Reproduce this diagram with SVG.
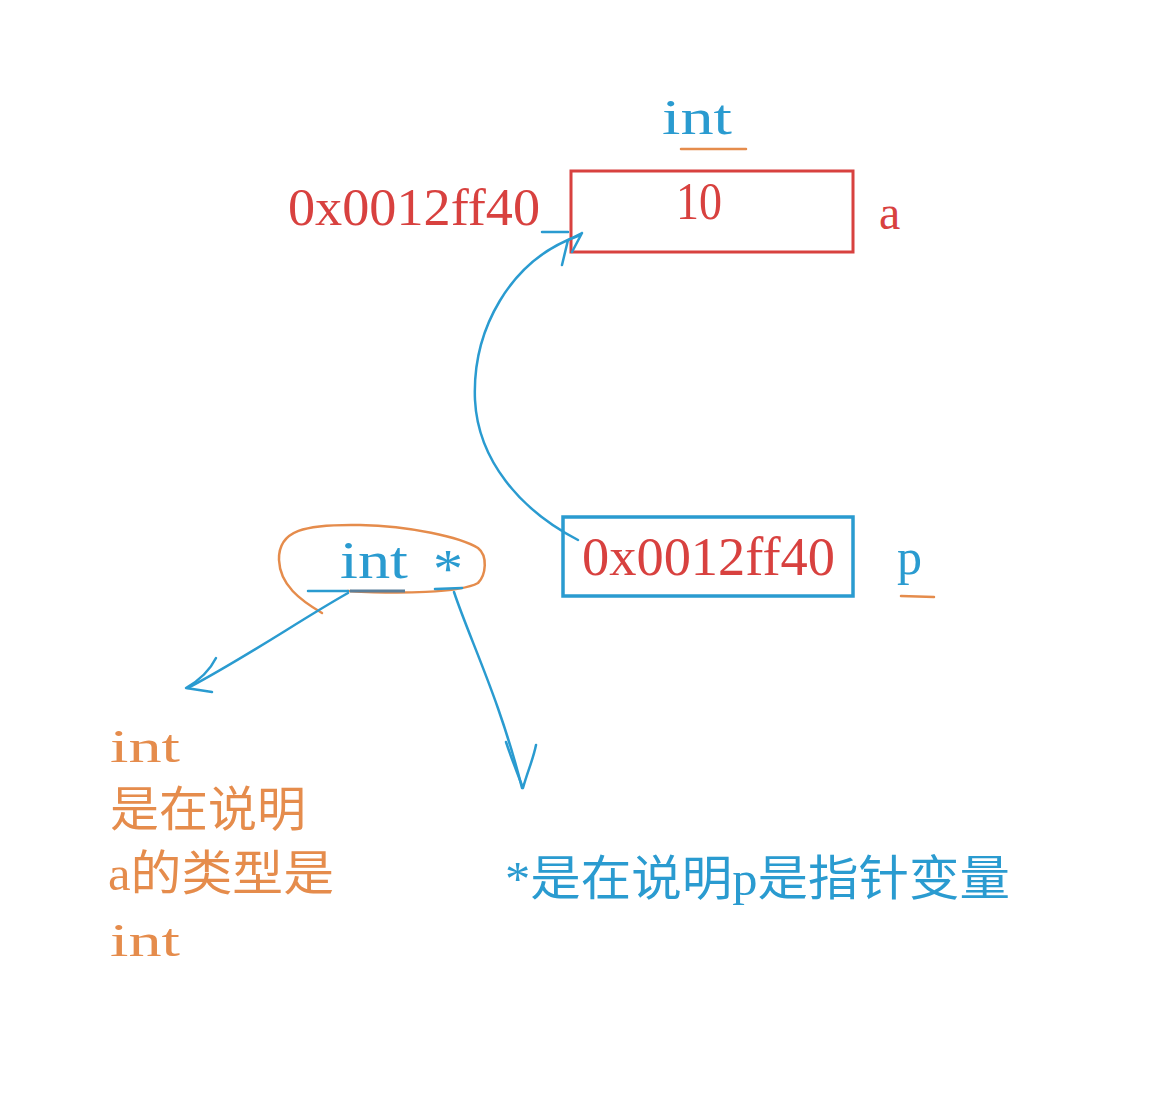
<svg xmlns="http://www.w3.org/2000/svg" width="1168" height="1109" viewBox="0 0 1168 1109">
<style>
.t{font-family:"Liberation Serif","Noto Sans CJK SC",serif}
.red{fill:#d8413f}
.blue{fill:#2a9bd0}
.org{fill:#e58c4c}
.bl{fill:none;stroke:#2a9bd0;stroke-width:2.5;stroke-linecap:round;stroke-linejoin:round}
.ol{fill:none;stroke:#e58c4c;stroke-width:2.5;stroke-linecap:round;stroke-linejoin:round}
</style>
<rect width="1168" height="1109" fill="#ffffff"/>
<g id="node-a">
<text class="t blue" x="662" y="134" font-size="50" textLength="70" lengthAdjust="spacingAndGlyphs">int</text>
<line class="ol" x1="681" y1="149" x2="746" y2="149" stroke-width="3"/>
<rect x="571" y="171" width="282" height="81" fill="none" stroke="#d8413f" stroke-width="3"/>
<text class="t red" x="288" y="225" font-size="53" textLength="252" lengthAdjust="spacingAndGlyphs">0x0012ff40</text>
<text class="t red" x="676" y="219" font-size="52" textLength="46" lengthAdjust="spacingAndGlyphs">10</text>
<text class="t red" x="879" y="229" font-size="48">a</text>
</g>
<g id="node-p">
<rect x="563" y="517" width="290" height="79" fill="none" stroke="#2a9bd0" stroke-width="3.5"/>
<text class="t red" x="582" y="575" font-size="54" textLength="253" lengthAdjust="spacingAndGlyphs">0x0012ff40</text>
<text class="t blue" x="897" y="574" font-size="50">p</text>
<line class="ol" x1="901" y1="596" x2="934" y2="597" stroke-width="3"/>
</g>
<g id="node-decl">
<path class="ol" d="M322 613 C 300 600 280 585 279 560 C 278 530 305 524 360 525 C 410 526 460 537 478 548 C 488 556 486 575 478 583 C 460 593 400 594 348 591"/>
<text class="t blue" x="340" y="578" font-size="52" textLength="68" lengthAdjust="spacingAndGlyphs">int</text>
<text class="t blue" x="433" y="587" font-size="54" textLength="30" lengthAdjust="spacingAndGlyphs">*</text>
<line class="bl" x1="308" y1="591" x2="348" y2="591"/>
<line x1="350" y1="591" x2="405" y2="591" stroke="#5a7f9a" stroke-width="3"/>
<line class="bl" x1="435" y1="589" x2="462" y2="588"/>
</g>
<g id="note-int">
<text class="t org" x="110" y="762" font-size="46" textLength="70" lengthAdjust="spacingAndGlyphs">int</text>
<text class="t org" x="110" y="826" font-size="48" textLength="196" lengthAdjust="spacingAndGlyphs">是在说明</text>
<text class="t org" x="108" y="890" font-size="48" textLength="226" lengthAdjust="spacingAndGlyphs">a的类型是</text>
<text class="t org" x="110" y="956" font-size="46" textLength="70" lengthAdjust="spacingAndGlyphs">int</text>
</g>
<g id="note-star">
<text class="t blue" x="505" y="895" font-size="48" textLength="505" lengthAdjust="spacingAndGlyphs">*是在说明p是指针变量</text>
</g>
<g id="connectors">
<path class="bl" d="M578 540 C 520 510 478 460 475 400 C 472 330 510 260 578 236"/>
<path class="bl" d="M542 232 L 568 232 M 582 233 L 568 240 L 562 265 M 582 233 L 572 252"/>
<path class="bl" d="M348 593 C 300 620 250 655 188 688"/>
<path class="bl" d="M216 658 C 210 670 200 680 186 688 L 212 692"/>
<path class="bl" d="M454 592 C 470 640 500 700 522 788"/>
<path class="bl" d="M506 742 C 512 760 518 775 523 788 C 528 770 533 760 536 745"/>
</g>
</svg>
